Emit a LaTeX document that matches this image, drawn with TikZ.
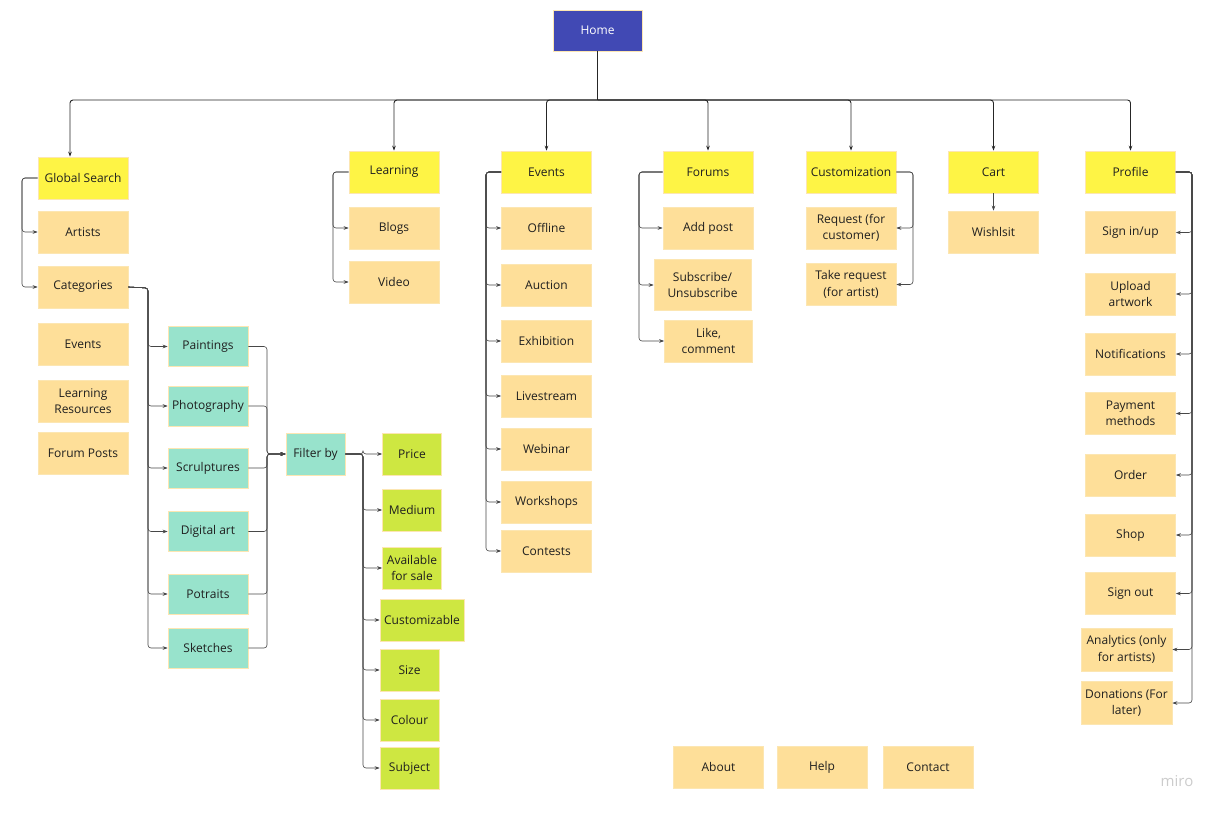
\documentclass[tikz,border=0pt]{standalone}
\usepackage{fontspec}
\setmainfont{Open Sans}
\usetikzlibrary{arrows.meta}

\definecolor{homeblue}{HTML}{4149B4}
\definecolor{topyellow}{HTML}{FEF445}
\definecolor{pageorange}{HTML}{FEDF99}
\definecolor{catteal}{HTML}{98E3CC}
\definecolor{filterlime}{HTML}{CEE741}
\definecolor{cardline}{HTML}{FCE6B2}
\definecolor{inkgray}{HTML}{1F1F1F}

\tikzset{
    card/.style={draw=cardline, line width=0.7pt, align=center, inner sep=1pt,
        minimum width=90pt, minimum height=42pt, text=inkgray},
    topcard/.style={card, fill=topyellow},
    pagecard/.style={card, fill=pageorange},
    catcard/.style={card, fill=catteal, minimum width=80pt, minimum height=40pt},
    limecard/.style={card, fill=filterlime, minimum width=59pt},
    link/.style={draw=black!72, line width=0.6pt, rounded corners=3pt,
        -{Stealth[length=5pt,width=3.6pt]}},
    trunk/.style={link, draw=black!85, line width=0.9pt}
}

\begin{document}
\begin{tikzpicture}[x=1pt, y=-1pt, font=\fontsize{12}{16.5}\selectfont]
    \useasboundingbox[fill=white] (0,0) rectangle (1224,816);

    % home and top level
    \node[card, fill=homeblue, text=white, minimum width=89pt, minimum height=41pt] (home) at (597.5,30.5) {Home};
    \node[topcard] (gs) at (83,178) {Global Search};
    \node[topcard] (learn) at (394,172) {Learning};
    \node[topcard] (events) at (546.5,172) {Events};
    \node[topcard] (forums) at (708,172) {Forums};
    \node[topcard] (cust) at (851,172) {Customization};
    \node[topcard] (cart) at (993.5,172) {Cart};
    \node[topcard] (profile) at (1130.5,172) {Profile};

    % global search
    \node[pagecard] (artists) at (83,232) {Artists};
    \node[pagecard] (cats) at (83,287) {Categories};
    \node[pagecard] (evsearch) at (83,344) {Events};
    \node[pagecard] (lres) at (83,401) {Learning\\Resources};
    \node[pagecard] (fposts) at (83,453) {Forum Posts};

    % categories
    \node[catcard] (paint) at (208,346.5) {Paintings};
    \node[catcard] (photo) at (208,406) {Photography};
    \node[catcard] (sculp) at (208,468) {Scrulptures};
    \node[catcard] (digi) at (208,531.5) {Digital art};
    \node[catcard] (potr) at (208,594) {Potraits};
    \node[catcard] (sketch) at (208,648) {Sketches};
    \node[catcard, minimum width=59pt, minimum height=42pt] (filter) at (315.5,454) {Filter by};

    % filters
    \node[limecard] (price) at (412,454) {Price};
    \node[limecard] (medium) at (412,510) {Medium};
    \node[limecard] (avail) at (412,568) {Available\\for sale};
    \node[limecard, minimum width=84pt] (custom) at (422,620) {Customizable};
    \node[limecard] (size) at (409.5,670) {Size};
    \node[limecard] (colour) at (409.5,720) {Colour};
    \node[limecard] (subject) at (409.5,768) {Subject};

    % learning
    \node[pagecard] (blogs) at (394,228) {Blogs};
    \node[pagecard] (video) at (394,282) {Video};

    % events
    \node[pagecard] (offline) at (546.5,228) {Offline};
    \node[pagecard] (auction) at (546.5,285) {Auction};
    \node[pagecard] (exhib) at (546.5,341) {Exhibition};
    \node[pagecard] (live) at (546.5,396) {Livestream};
    \node[pagecard] (webinar) at (546.5,449) {Webinar};
    \node[pagecard] (workshops) at (546.5,502) {Workshops};
    \node[pagecard] (contests) at (546.5,551) {Contests};

    % forums
    \node[pagecard] (addpost) at (708,228) {Add post};
    \node[pagecard, minimum width=97pt, minimum height=51pt] (subs) at (702.5,285) {Subscribe/\\Unsubscribe};
    \node[pagecard, minimum width=88pt] (like) at (708.5,341) {Like,\\comment};

    % customization
    \node[pagecard] (req) at (851,228) {Request (for\\customer)};
    \node[pagecard] (takereq) at (851,284.5) {Take request\\(for artist)};

    % cart
    \node[pagecard] (wish) at (993.5,232) {Wishlsit};

    % profile
    \node[pagecard] (signin) at (1130.5,232.5) {Sign in/up};
    \node[pagecard] (upload) at (1130.5,294) {Upload\\artwork};
    \node[pagecard] (notif) at (1130.5,354) {Notifications};
    \node[pagecard] (pay) at (1130.5,413.5) {Payment\\methods};
    \node[pagecard] (order) at (1130.5,475) {Order};
    \node[pagecard] (shop) at (1130.5,535) {Shop};
    \node[pagecard] (signout) at (1130.5,593.5) {Sign out};
    \node[pagecard, minimum width=91pt, minimum height=43pt] (analytics) at (1126.5,649.5) {Analytics (only\\for artists)};
    \node[pagecard, minimum width=91pt, minimum height=43pt] (donate) at (1126.5,703) {Donations (For\\later)};

    % footer
    \node[pagecard] (about) at (718.5,767) {About};
    \node[pagecard] (help) at (822,767) {Help};
    \node[pagecard] (contact) at (928,767) {Contact};

    \node[text=black!20, font=\fontsize{15}{17}\selectfont] (miro) at (1177,781) {miro};

    % bends
    \coordinate (bus) at (597.5,100);
    \coordinate (gsdrop) at (70,100);
    \coordinate (gsbus) at (22,178);
    \coordinate (catbus) at (148,288);
    \coordinate (tealbus) at (267,454);
    \coordinate (filtbus) at (363,454);
    \coordinate (learnbus) at (333,172);
    \coordinate (evbus) at (486,172);
    \coordinate (forbus) at (639,172);
    \coordinate (custbus) at (913,172);
    \coordinate (profbus) at (1192,172);

    \draw[trunk, -] (home.south) -- (bus);
    \draw[trunk] (bus) -| (gs.north -| gsdrop);
    \foreach \top in {learn,events,forums,cust,cart,profile}
        \draw[trunk] (bus) -| (\top.north);

    \foreach \kid in {artists,cats}
        \draw[link] (gs.west) -- (gsbus) |- (\kid.west);
    \foreach \kid in {paint,photo,sculp,digi,potr,sketch} {
        \draw[link] (cats.east) -- (catbus) |- (\kid.west);
        \draw[link] (\kid.east) -| (tealbus) -- (filter.west);
    }
    \foreach \kid in {price,medium,avail,custom,size,colour,subject}
        \draw[link] (filter.east) -- (filtbus) |- (\kid.west);
    \foreach \kid in {blogs,video}
        \draw[link] (learn.west) -- (learnbus) |- (\kid.west);
    \foreach \kid in {offline,auction,exhib,live,webinar,workshops,contests}
        \draw[link] (events.west) -- (evbus) |- (\kid.west);
    \foreach \kid in {addpost,subs,like}
        \draw[link] (forums.west) -- (forbus) |- (\kid.west);
    \foreach \kid in {req,takereq}
        \draw[link] (cust.east) -- (custbus) |- (\kid.east);
    \draw[link] (cart) -- (wish);
    \foreach \kid in {signin,upload,notif,pay,order,shop,signout,analytics,donate}
        \draw[link] (profile.east) -- (profbus) |- (\kid.east);
\end{tikzpicture}
\end{document}
